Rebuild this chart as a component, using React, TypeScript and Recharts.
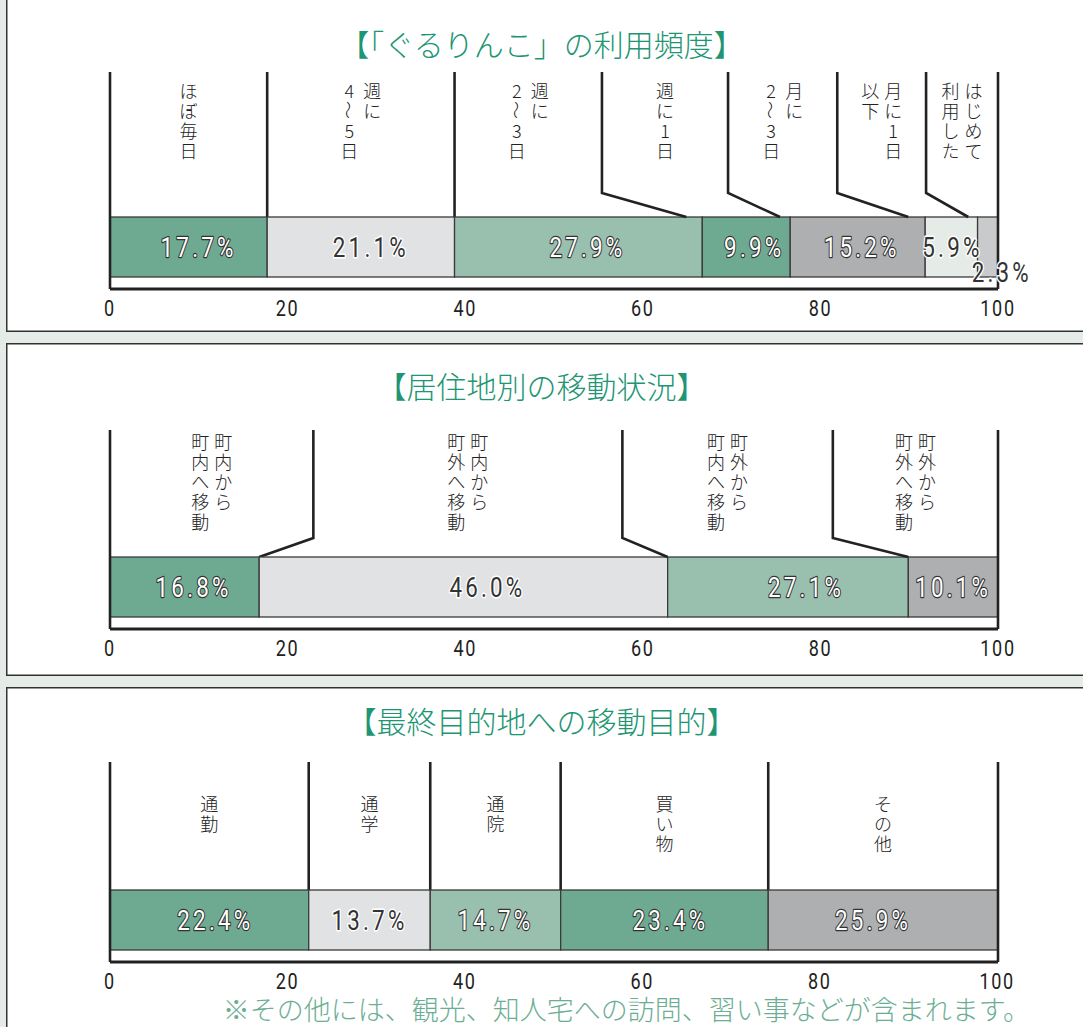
import React from "react";
import { BarChart, Bar, XAxis, YAxis, LabelList } from "recharts";

// ---- data ----
const FREQ_TITLE = "【「ぐるりんこ」の利用頻度】";
const FREQ_LABELS = ["ほぼ毎日", "週に\n4～5日", "週に\n2～3日", "週に1日", "月に\n2～3日", "月に1日\n以下", "はじめて\n利用した"];
const FREQ_VALUES = [17.7, 21.1, 27.9, 9.9, 15.2, 5.9, 2.3];

const MOVE_TITLE = "【居住地別の移動状況】";
const MOVE_LABELS = ["町内から\n町内へ移動", "町内から\n町外へ移動", "町外から\n町内へ移動", "町外から\n町外へ移動"];
const MOVE_VALUES = [16.8, 46.0, 27.1, 10.1];

const PURPOSE_TITLE = "【最終目的地への移動目的】";
const PURPOSE_LABELS = ["通勤", "通学", "通院", "買い物", "その他"];
const PURPOSE_VALUES = [22.4, 13.7, 14.7, 23.4, 25.9];

const FOOTNOTE = "※その他には、観光、知人宅への訪問、習い事などが含まれます。";
const AXIS_TICKS = [0, 20, 40, 60, 80, 100];

// ---- style ----
const DARK_GREEN = "#6eaa91";
const PALE_GRAY = "#e1e2e4";
const MID_GREEN = "#99c0ae";
const GRAY = "#aeafb1";
const PALE_GREEN = "#e5ece8";
const SILVER = "#c9cacc";
const LIGHT_FILLS = [PALE_GRAY, PALE_GREEN, SILVER];
const INK = "#222";
const JP = "'Noto Sans CJK JP', sans-serif";
const NUM = "Roboto, sans-serif";

const CHART_W = 1077;
const BAR_H = 60;
const AXIS_GAP = 12;

type Panel = {
  title: string;
  labels: string[];
  values: number[];
  colors: string[];
  top: number;
  height: number;
  plotTop: number;
  titleY: number;
  lineLen: number;
  kneeRise: number;
  labelTop: number;
  leaderTop: (number | null)[];
  leaderEnd: (number | null)[];
  pctDx: number[];
  pctShift?: Record<number, [number, number]>;
  footnote?: boolean;
};

const PANELS: Panel[] = [
  {
    title: FREQ_TITLE,
    labels: FREQ_LABELS,
    values: FREQ_VALUES,
    colors: [DARK_GREEN, PALE_GRAY, MID_GREEN, DARK_GREEN, GRAY, PALE_GREEN, SILVER],
    top: -10,
    height: 342,
    plotTop: 215,
    titleY: 53,
    lineLen: 145,
    kneeRise: 24,
    labelTop: 18,
    leaderTop: [null, null, 55.4, 69.6, 81.9, 91.9, null],
    leaderEnd: [null, null, 64.9, 75.45, 89.9, 96.65, null],
    pctDx: [10, 10, 9, 8, 4, 1, 0],
    pctShift: { 6: [14, 25] },
  },
  {
    title: MOVE_TITLE,
    labels: MOVE_LABELS,
    values: MOVE_VALUES,
    colors: [DARK_GREEN, PALE_GRAY, MID_GREEN, GRAY],
    top: 343,
    height: 333,
    plotTop: 202,
    titleY: 42,
    lineLen: 127,
    kneeRise: 19,
    labelTop: 11,
    leaderTop: [22.9, 57.7, 81.4, null],
    leaderEnd: [16.8, 62.8, 89.9, null],
    pctDx: [9, 24, 18, 0],
  },
  {
    title: PURPOSE_TITLE,
    labels: PURPOSE_LABELS,
    values: PURPOSE_VALUES,
    colors: [DARK_GREEN, PALE_GRAY, MID_GREEN, DARK_GREEN, GRAY],
    top: 687,
    height: 360,
    plotTop: 191,
    titleY: 33,
    lineLen: 128,
    kneeRise: 0,
    labelTop: 41,
    leaderTop: [null, null, null, null, null],
    leaderEnd: [null, null, null, null, null],
    pctDx: [6, 0, 0, 6, -10],
    footnote: true,
  },
];

// vertical label: columns right to left, characters stacked top to bottom
function VLabel({ cx, top, text }: { cx: number; top: number; text: string }) {
  const cols = text.split("\n");
  const gap = 23;
  const pitch = 20;
  return (
    <g>
      {cols.map((col, c) => {
        const x = cx + ((cols.length - 1) / 2 - c) * gap;
        return Array.from(col).map((ch, k) => {
          const y = top + k * pitch;
          return (
            <text
              key={`${c}-${k}`}
              x={x}
              y={y}
              textAnchor="middle"
              dominantBaseline="central"
              fontFamily={JP}
              fontSize={18}
              fontWeight={300}
              fill={INK}
              transform={ch === "～" ? `rotate(90 ${x} ${y})` : undefined}
            >
              {ch}
            </text>
          );
        });
      })}
    </g>
  );
}

function cumulative(values: number[]) {
  const out = [0];
  values.forEach((v) => out.push(out[out.length - 1] + v));
  return out;
}

function makeShape(p: Panel, i: number) {
  const cum = cumulative(p.values);
  const n = p.values.length;
  return (props: any) => {
    const { x, y, width, height } = props;
    const ppu = width / p.values[i];
    const origin = x - cum[i] * ppu;
    const px = (u: number) => origin + u * ppu;
    const topY = y - p.lineLen;
    const right = x + width;
    const lt = p.leaderTop[i];
    const le = p.leaderEnd[i];
    let leader: string;
    if (lt == null) {
      leader = `M${right},${topY} V${i === n - 1 ? y + height + AXIS_GAP : y}`;
    } else {
      leader = `M${px(lt)},${topY} V${y - p.kneeRise} L${px(le as number)},${y}`;
    }
    const colL = i === 0 ? 0 : p.leaderTop[i - 1] ?? cum[i];
    const colR = lt ?? cum[i + 1];
    const cx = (px(colL) + px(colR)) / 2;
    return (
      <g>
        <rect x={x} y={y} width={width} height={height} fill={p.colors[i]} stroke="#3a3a3a" strokeWidth={1.3} />
        {i === 0 && (
          <line x1={x} y1={topY} x2={x} y2={y + height + AXIS_GAP} stroke={INK} strokeWidth={2.6} />
        )}
        <path d={leader} fill="none" stroke={INK} strokeWidth={2.6} />
        <VLabel cx={cx} top={topY + p.labelTop} text={p.labels[i]} />
      </g>
    );
  };
}

function makePct(p: Panel, i: number) {
  return (props: any) => {
    const { x, y, width, height, value } = props;
    const light = LIGHT_FILLS.includes(p.colors[i]);
    const shift = p.pctShift?.[i] ?? [0, 0];
    const cx = x + width / 2 + p.pctDx[i] + shift[0];
    const cy = y + height / 2 + shift[1];
    return (
      <text
        transform={`translate(${cx},${cy}) scale(0.8,1)`}
        x={0}
        y={0}
        textAnchor="middle"
        dominantBaseline="central"
        fontFamily={NUM}
        fontSize={28}
        letterSpacing={4}
        fill={light ? "#333" : "#fff"}
        stroke={light ? "#fff" : "#333"}
        strokeWidth={light ? 3 : 2.4}
        paintOrder="stroke"
        strokeLinejoin="round"
      >
        {`${Number(value).toFixed(1)}%`}
      </text>
    );
  };
}

function NarrowTick(props: any) {
  const { x, y, payload } = props;
  return (
    <text
      transform={`translate(${x},${y}) scale(0.82,1)`}
      x={0}
      y={0}
      dy="0.71em"
      textAnchor="middle"
      fontFamily={NUM}
      fontSize={22}
      letterSpacing={2}
      fill={INK}
    >
      {payload.value}
    </text>
  );
}

function PanelChart({ p }: { p: Panel }) {
  const row: Record<string, any> = { name: p.title };
  p.values.forEach((v, i) => (row[`s${i}`] = v));
  const plotBottom = p.plotTop + BAR_H + 2 * AXIS_GAP;
  return (
    <div
      style={{
        position: "absolute",
        left: 6,
        top: p.top,
        width: 1100,
        height: p.height,
        background: "#fff",
        boxShadow: "inset 0 0 0 1.5px #333",
      }}
    >
      <div
        style={{
          position: "absolute",
          left: -6,
          width: 1083,
          top: p.titleY - 18,
          lineHeight: "36px",
          textAlign: "center",
          fontFamily: JP,
          fontSize: 30,
          fontWeight: 300,
          color: "#1e9573",
        }}
      >
        {p.title}
      </div>
      <div style={{ position: "absolute", left: 0, top: 0 }}>
        <BarChart
          width={CHART_W}
          height={p.height}
          layout="vertical"
          data={[row]}
          margin={{ top: p.plotTop, right: CHART_W - 992, left: 104, bottom: p.height - plotBottom - 30 }}
          barCategoryGap={0}
        >
          <XAxis
            type="number"
            domain={[0, 100]}
            ticks={AXIS_TICKS}
            interval={0}
            tickLine={false}
            tickMargin={5}
            height={30}
            axisLine={{ stroke: INK, strokeWidth: 3 }}
            tick={<NarrowTick />}
          />
          <YAxis type="category" dataKey="name" hide />
          {p.values.map((_, i) => (
            <Bar
              key={i}
              dataKey={`s${i}`}
              stackId="a"
              fill={p.colors[i]}
              barSize={BAR_H}
              isAnimationActive={false}
              shape={makeShape(p, i)}
            >
              <LabelList dataKey={`s${i}`} content={makePct(p, i)} />
            </Bar>
          ))}
        </BarChart>
      </div>
      {p.footnote && (
        <div
          style={{
            position: "absolute",
            right: 1100 - 1024,
            top: 322 - 14,
            lineHeight: "28px",
            fontFamily: JP,
            fontSize: 27,
            fontWeight: 300,
            color: "#6cae93",
            whiteSpace: "nowrap",
          }}
        >
          {FOOTNOTE}
        </div>
      )}
    </div>
  );
}

export default function App() {
  return (
    <div
      style={{
        position: "absolute",
        left: 0,
        top: 0,
        width: 1083,
        height: 1027,
        background: "#e5ebe7",
        overflow: "hidden",
      }}
    >
      {PANELS.map((p, k) => (
        <PanelChart key={k} p={p} />
      ))}
    </div>
  );
}
